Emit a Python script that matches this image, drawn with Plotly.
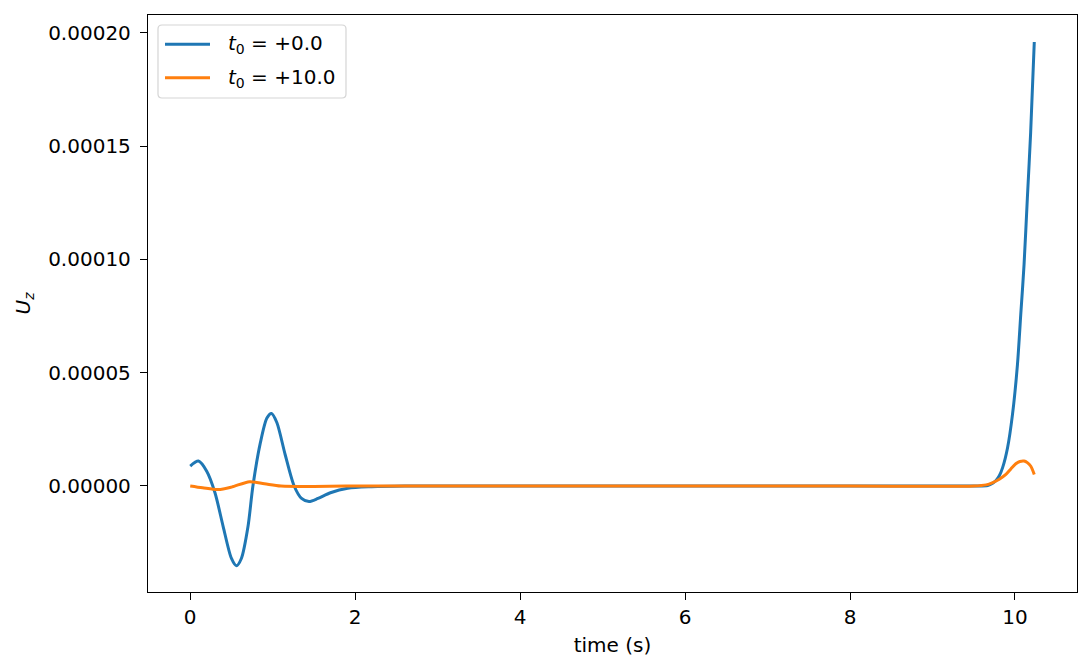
import plotly.graph_objects as go

# Blue series: t0 = +0.0  (values in units of 1e-6)
t_blue = [0.00, 0.10, 0.20, 0.30, 0.40, 0.50, 0.56, 0.62, 0.70, 0.76, 0.85, 0.93, 0.985,
          1.05, 1.15, 1.26, 1.35, 1.44, 1.55, 1.70, 1.91, 2.20, 2.60, 4.0, 6.0, 8.0, 9.5,
          9.67, 9.73, 9.77, 9.81, 9.85, 9.91, 9.97, 10.03, 10.07, 10.11, 10.15, 10.19, 10.234]
u_blue = [8.8, 11.0, 6.5, -3.0, -18.0, -32.0, -35.2, -32.0, -18.0, 0.0, 19.0, 30.0, 32.0,
          28.0, 14.0, 0.0, -5.5, -6.9, -5.5, -3.0, -1.0, -0.3, 0.0, 0.0, 0.0, 0.0, 0.0,
          0.2, 1.2, 2.4, 4.5, 8.1, 16.9, 31.6, 53.6, 75.6, 97.7, 127.0, 156.0, 196.0]

# Orange series: t0 = +10.0  (values in units of 1e-6)
t_orange = [0.00, 0.15, 0.34, 0.50, 0.72, 0.90, 1.10, 1.50, 2.00, 4.0, 6.0, 8.0, 9.5,
            9.65, 9.73, 9.81, 9.89, 9.95, 10.01, 10.06, 10.11, 10.15, 10.19, 10.234]
u_orange = [0.0, -0.8, -1.6, -0.5, 1.9, 1.0, 0.0, -0.2, 0.0, 0.0, 0.0, 0.0, 0.0,
            0.5, 1.5, 3.0, 5.1, 7.5, 9.8, 10.8, 11.0, 10.3, 8.8, 5.1]

legend_labels = ["<i>t</i><sub>0</sub> = +0.0", "<i>t</i><sub>0</sub> = +10.0"]
colors = ["#1f77b4", "#ff7f0e"]

scale = 1e-6
x_ticks = [0, 2, 4, 6, 8, 10]
y_ticks = [0.0, 0.00005, 0.00010, 0.00015, 0.00020]

font = "DejaVu Sans"
fs = 20

fig = go.Figure()
fig.add_trace(go.Scatter(x=t_blue, y=[v * scale for v in u_blue], mode="lines",
                         line=dict(color=colors[0], width=3, shape="spline", smoothing=0.8),
                         name=legend_labels[0], showlegend=False))
fig.add_trace(go.Scatter(x=t_orange, y=[v * scale for v in u_orange], mode="lines",
                         line=dict(color=colors[1], width=3, shape="spline", smoothing=0.8),
                         name=legend_labels[1], showlegend=False))

axis_common = dict(showgrid=False, zeroline=False, showline=True, linecolor="black",
                   linewidth=1.3, mirror=True, ticks="outside", ticklen=7, tickwidth=1.3,
                   tickcolor="black", tickfont=dict(family=font, size=fs, color="black"))

# Custom legend (matplotlib style) in paper coordinates of the plot area
W, H = 929.0, 577.0   # plot-area size in px
def px(x):
    return (x - 148) / W
def py(y):
    return (592 - y) / H

bx0, bx1, by0, by1 = px(158), px(346), py(98), py(25)
rx, ry = 4 / W, 4 / H
path = (f"M{bx0+rx},{by0} L{bx1-rx},{by0} Q{bx1},{by0} {bx1},{by0+ry} "
        f"L{bx1},{by1-ry} Q{bx1},{by1} {bx1-rx},{by1} L{bx0+rx},{by1} "
        f"Q{bx0},{by1} {bx0},{by1-ry} L{bx0},{by0+ry} Q{bx0},{by0} {bx0+rx},{by0} Z")
shapes = [dict(type="path", xref="paper", yref="paper", path=path,
               fillcolor="rgba(255,255,255,0.8)", line=dict(color="#d5d5d5", width=1.2))]
annotations = []
for i, (lab, col) in enumerate(zip(legend_labels, colors)):
    yy = py(44.3 + i * 33.4)
    shapes.append(dict(type="line", xref="paper", yref="paper", x0=px(165), x1=px(210),
                       y0=yy, y1=yy, line=dict(color=col, width=3)))
    annotations.append(dict(text=lab, xref="paper", yref="paper", x=px(226), y=yy,
                            xanchor="left", yanchor="middle", showarrow=False,
                            font=dict(family=font, size=fs, color="black")))

fig.update_layout(
    width=1092, height=670,
    margin=dict(l=148, r=15, t=15, b=78),
    paper_bgcolor="white", plot_bgcolor="white",
    font=dict(family=font, size=fs, color="black"),
    xaxis=dict(range=[-0.512, 10.752], tickvals=x_ticks, ticktext=[str(v) for v in x_ticks],
               title=dict(text="time (s)", font=dict(family=font, size=fs), standoff=9),
               **axis_common),
    yaxis=dict(range=[-4.68e-5, 2.079e-4], tickvals=y_ticks,
               ticktext=[f"{v:.5f}" for v in y_ticks], ticklabelstandoff=5,
               title=dict(text="<i>U<sub>z</sub></i>", font=dict(family=font, size=fs), standoff=12),
               **axis_common),
    shapes=shapes,
    annotations=annotations,
    showlegend=False,
)

fig.write_html("out.html")
